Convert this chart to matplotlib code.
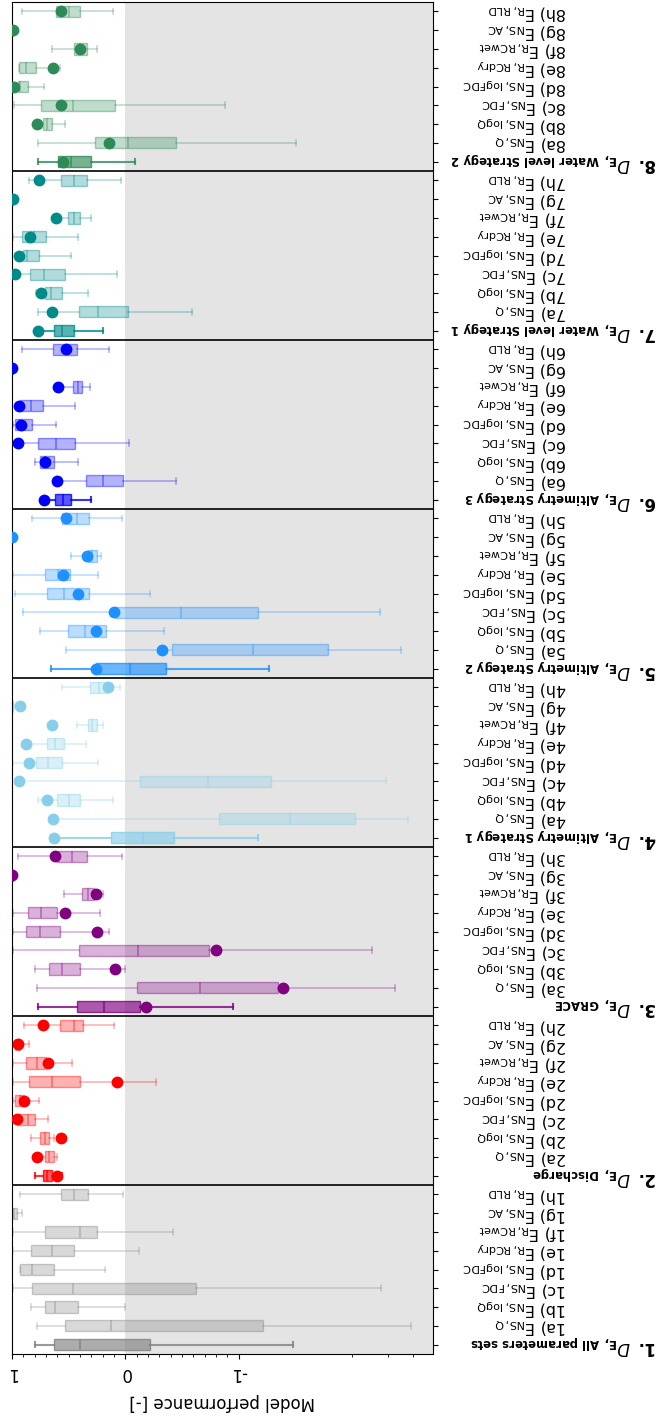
import numpy as np
import matplotlib
matplotlib.use("Agg")
import matplotlib.pyplot as plt
from matplotlib.colors import to_rgba
from matplotlib.ticker import FixedLocator, NullFormatter
from matplotlib.transforms import blended_transform_factory

# groups (bottom to top) and the 8 criteria inside each group
groups = ["All parameters sets", "Discharge", "GRACE", "Altimetry Strategy 1",
          "Altimetry Strategy 2", "Altimetry Strategy 3",
          "Water level Strategy 1", "Water level Strategy 2"]
letters = ["a", "b", "c", "d", "e", "f", "g", "h"]
criteria = ["NS,Q", "NS,logQ", "NS,FDC", "NS,logFDC", "R,RCdry", "R,RCwet",
            "NS,AC", "R,RLD"]
colors = ["gray", "red", "purple", "skyblue", "dodgerblue", "blue",
          "darkcyan", "seagreen"]

# per group: [group row, a..h]
whishi = [
    [0.80, 0.78, 0.83, 0.99, 0.93, 0.99, 0.99, 1.00, 0.93],
    [0.80, 0.81, 0.83, 0.99, 0.99, 0.99, 0.99, 0.99, 0.89],
    [0.77, 0.78, 0.80, 0.99, 0.99, 0.99, 0.54, 1.00, 0.95],
    [0.66, 0.64, 0.77, 0.94, 0.99, 0.88, 0.43, 1.00, 0.56],
    [0.66, 0.52, 0.75, 0.90, 0.97, 0.99, 0.48, 1.00, 0.82],
    [0.72, 0.60, 0.80, 0.95, 0.99, 0.96, 0.59, 1.00, 0.91],
    [0.77, 0.77, 0.79, 0.97, 0.97, 0.99, 0.64, 1.00, 0.85],
    [0.77, 0.77, 0.78, 0.98, 0.98, 0.94, 0.65, 1.00, 0.91],
]
q3 = [
    [0.63, 0.53, 0.71, 0.82, 0.93, 0.83, 0.71, 1.00, 0.57],
    [0.73, 0.71, 0.75, 0.96, 0.97, 0.85, 0.88, 0.97, 0.58],
    [0.43, -0.10, 0.67, 0.41, 0.88, 0.86, 0.38, 1.00, 0.60],
    [0.13, -0.83, 0.60, -0.13, 0.79, 0.69, 0.33, 1.00, 0.31],
    [0.26, -0.41, 0.51, 0.09, 0.69, 0.71, 0.33, 1.00, 0.56],
    [0.62, 0.35, 0.75, 0.77, 0.97, 0.93, 0.46, 1.00, 0.64],
    [0.63, 0.41, 0.71, 0.84, 0.90, 0.91, 0.51, 1.00, 0.57],
    [0.59, 0.27, 0.73, 0.74, 0.95, 0.94, 0.45, 1.00, 0.61],
]
med = [
    [0.40, 0.13, 0.62, 0.46, 0.82, 0.65, 0.40, 0.98, 0.45],
    [0.69, 0.67, 0.71, 0.86, 0.93, 0.65, 0.78, 0.95, 0.45],
    [0.19, -0.66, 0.56, -0.11, 0.75, 0.74, 0.33, 1.00, 0.47],
    [-0.16, -1.45, 0.50, -0.73, 0.68, 0.62, 0.29, 0.995, 0.23],
    [-0.04, -1.13, 0.36, -0.49, 0.54, 0.59, 0.29, 0.995, 0.43],
    [0.55, 0.20, 0.71, 0.61, 0.93, 0.83, 0.42, 0.995, 0.53],
    [0.56, 0.24, 0.66, 0.72, 0.87, 0.81, 0.45, 0.995, 0.45],
    [0.48, -0.02, 0.69, 0.46, 0.93, 0.88, 0.40, 0.995, 0.50],
]
q1 = [
    [-0.22, -1.22, 0.42, -0.62, 0.63, 0.45, 0.25, 0.96, 0.33],
    [0.65, 0.63, 0.67, 0.80, 0.89, 0.40, 0.70, 0.93, 0.37],
    [-0.13, -1.35, 0.40, -0.74, 0.58, 0.60, 0.28, 0.995, 0.34],
    [-0.43, -2.07, 0.40, -1.29, 0.56, 0.54, 0.25, 0.99, 0.15],
    [-0.36, -1.79, 0.17, -1.17, 0.32, 0.49, 0.25, 0.99, 0.32],
    [0.48, 0.02, 0.63, 0.44, 0.82, 0.73, 0.38, 0.99, 0.43],
    [0.45, -0.02, 0.56, 0.53, 0.76, 0.70, 0.40, 0.99, 0.34],
    [0.30, -0.45, 0.65, 0.09, 0.86, 0.79, 0.34, 0.99, 0.40],
]
whislo = [
    [-1.48, -3.88, 0.00, -2.78, 0.18, -0.12, -0.42, 0.91, 0.02],
    [0.56, 0.60, 0.63, 0.68, 0.76, -0.27, 0.47, 0.85, 0.10],
    [-0.95, -3.24, 0.00, -2.51, 0.14, 0.22, 0.20, 0.99, 0.03],
    [-1.17, -3.77, 0.11, -2.93, 0.24, 0.35, 0.20, 0.98, 0.05],
    [-1.27, -3.49, -0.34, -2.75, -0.22, 0.24, 0.21, 0.98, 0.03],
    [0.30, -0.45, 0.42, -0.03, 0.61, 0.44, 0.31, 0.98, 0.14],
    [0.20, -0.59, 0.33, 0.07, 0.48, 0.42, 0.30, 0.98, 0.04],
    [-0.09, -1.51, 0.53, -0.88, 0.72, 0.58, 0.25, 0.98, 0.11],
]
# highlighted value per row (none for the first group)
dots = [
    None,
    [0.60, 0.78, 0.57, 0.96, 0.89, 0.07, 0.68, 0.95, 0.73],
    [-0.18, -1.39, 0.09, -0.80, 0.25, 0.53, 0.26, 1.00, 0.62],
    [0.63, 0.64, 0.69, 0.94, 0.85, 0.88, 0.65, 0.93, 0.15],
    [0.26, -0.32, 0.26, 0.10, 0.42, 0.55, 0.34, 1.00, 0.52],
    [0.72, 0.60, 0.71, 0.95, 0.92, 0.94, 0.59, 1.00, 0.52],
    [0.77, 0.65, 0.74, 0.97, 0.94, 0.84, 0.61, 0.99, 0.76],
    [0.55, 0.14, 0.78, 0.57, 0.98, 0.64, 0.40, 0.99, 0.57],
]

fig = plt.figure(figsize=(6.66, 14.19), dpi=100)
ax = fig.add_axes([12 / 666, 65 / 1419, 421 / 666, 1352 / 1419])

ax.set_xscale("symlog", linthresh=2, linscale=1)
ax.axvspan(0, -5, color="#e4e4e4", zorder=0, lw=0)

nrow = len(letters) + 1


def draw(stats, pos, c, a_face, a_edge, a_line, lw):
    ax.bxp(stats, positions=pos, widths=0.6, orientation="horizontal",
           patch_artist=True, showfliers=False, manage_ticks=False,
           boxprops=dict(facecolor=to_rgba(c, a_face), edgecolor=to_rgba(c, a_edge), lw=1),
           whiskerprops=dict(color=to_rgba(c, a_line), lw=lw),
           capprops=dict(color=to_rgba(c, a_line), lw=lw),
           medianprops=dict(color=to_rgba(c, a_edge), lw=1.2))


for g in range(len(groups)):
    c = colors[g]
    stats = []
    for i in range(nrow):
        stats.append(dict(whislo=whislo[g][i], q1=q1[g][i], med=med[g][i],
                          q3=q3[g][i], whishi=whishi[g][i], fliers=[]))
    base = g * nrow
    draw(stats[:1], [base], c, 0.65, 0.8, 0.8, 1.5)
    draw(stats[1:], list(range(base + 1, base + nrow)), c, 0.3, 0.4, 0.3, 1.2)
    if dots[g] is not None:
        ax.plot(dots[g], range(base, base + nrow), "o", color=c, ms=7.5,
                zorder=5, ls="none")
    if g > 0:
        ax.axhline(base - 0.5, color="black", lw=1.2, zorder=6)

ax.set_xlim(1, -5)
ax.set_ylim(-0.5, len(groups) * nrow - 0.5)

ax.xaxis.set_major_locator(FixedLocator([1, 0, -1]))
ax.set_xticklabels(["1", "0", "-1"], rotation=180, fontsize=12)
minor = [v for v in np.round(np.arange(-1.0, 1.01, 0.1), 1) if v not in (1, 0, -1)]
ax.xaxis.set_minor_locator(FixedLocator(minor + [-2, -3, -4]))
ax.xaxis.set_minor_formatter(NullFormatter())
ax.set_xlabel("Model performance [-]", rotation=180, fontsize=12, labelpad=8)

ax.yaxis.tick_right()
ax.set_yticks(range(len(groups) * nrow))
ax.set_yticklabels([])

trans = blended_transform_factory(fig.transFigure, ax.transData)
for g, name in enumerate(groups):
    base = g * nrow
    gname = name.replace(" ", r"\ ")
    ax.text(657 / 666, base, rf"$\mathbf{{{g + 1}.}}\ D_{{\mathbf{{E,\ {gname}}}}}$",
            transform=trans, rotation=180, ha="right", va="center", fontsize=12,
            clip_on=False)
    for i, (let, crit) in enumerate(zip(letters, criteria)):
        ax.text(567 / 666, base + i + 1,
                rf"{g + 1}{let}) $\mathrm{{E}}_{{\mathrm{{{crit}}}}}$",
                transform=trans, rotation=180, ha="right", va="center",
                fontsize=11.5, clip_on=False)

fig.savefig("out.png", dpi=100)
